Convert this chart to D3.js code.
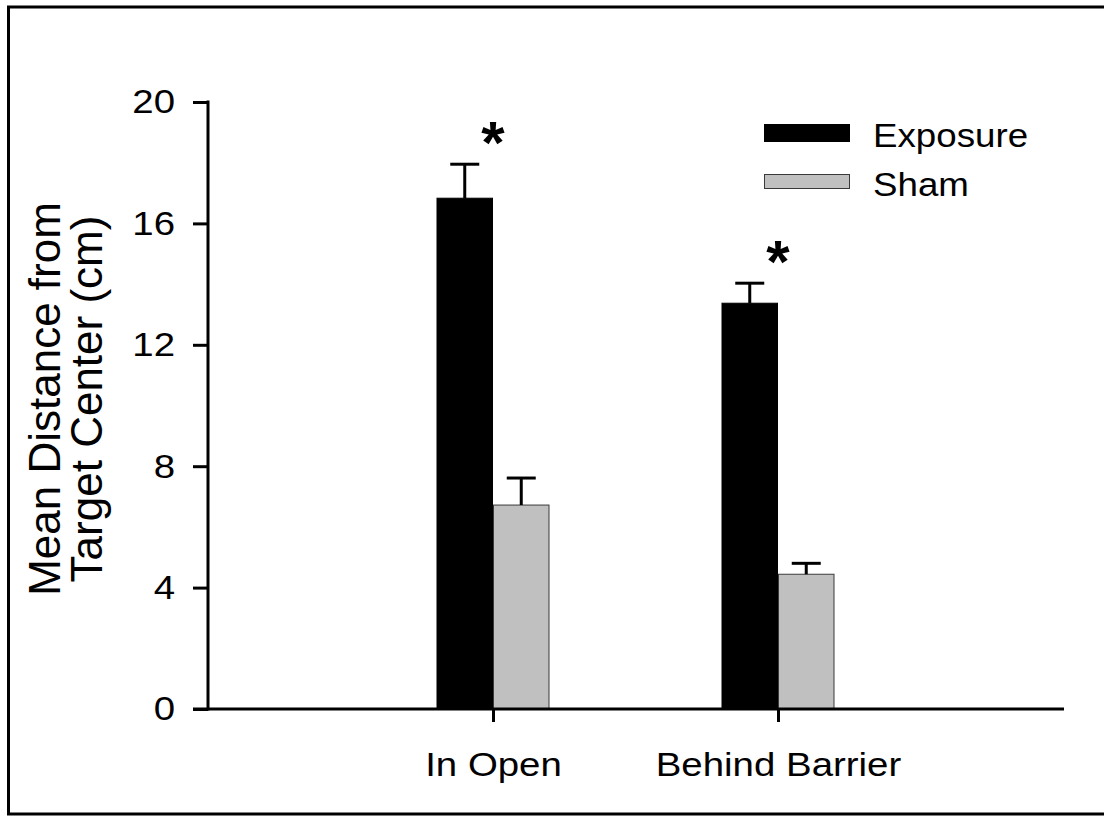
<!DOCTYPE html>
<html>
<head>
<meta charset="utf-8">
<script src="https://cdn.jsdelivr.net/npm/d3@7"></script>
<style>
  html, body { margin: 0; padding: 0; background: #fff; }
  svg { display: block; font-family: Arial, "Liberation Sans", sans-serif; }
</style>
</head>
<body>
<svg id="chart" width="1104" height="816"></svg>
<script>
// Mean distance from target center (cm), mean with upper SEM bar
const categories = ["In Open", "Behind Barrier"];
const seriesNames = ["Exposure", "Sham"];
const exposureMean = [16.83, 13.37];
const exposureErr  = [1.12, 0.66];
const shamMean     = [6.72, 4.44];
const shamErr      = [0.89, 0.36];
const significant  = [true, true];
const yTicks = [0, 4, 8, 12, 16, 20];

// horizontal text is set slightly wide
const stretch = 1.13;
const FONT = "Arial, 'Liberation Sans', sans-serif";

const svg = d3.select("#chart");

// outer frame
svg.append("rect")
  .attr("x", 8.5).attr("y", 7).attr("width", 1110).attr("height", 807)
  .attr("fill", "none").attr("stroke", "#000").attr("stroke-width", 3);

const y = d3.scaleLinear().domain([0, 20]).range([709, 102]);
const x = d3.scalePoint().domain(categories).range([493, 778]);
const axisX0 = 208, axisXEnd = 1064;
const barW = 56.5;

const series = [
  { name: seriesNames[0], mean: exposureMean, err: exposureErr, fill: "#000", stroke: "#000", offset: -1 },
  { name: seriesNames[1], mean: shamMean, err: shamErr, fill: "#c0c0c0", stroke: "#3a3a3a", offset: 0 }
];

// bars
series.forEach(s => {
  svg.append("g").selectAll("rect")
    .data(categories)
    .join("rect")
    .attr("x", (c) => x(c) + s.offset * barW + 0.5)
    .attr("y", (c, i) => y(s.mean[i]))
    .attr("width", barW - 1)
    .attr("height", (c, i) => y(0) - y(s.mean[i]))
    .attr("fill", s.fill)
    .attr("stroke", s.stroke)
    .attr("stroke-width", 1);
});

// upper error bars
series.forEach(s => {
  const g = svg.append("g").attr("stroke", "#000").attr("stroke-width", 3);
  categories.forEach((c, i) => {
    const cx = x(c) + s.offset * barW + barW / 2;
    const top = y(s.mean[i] + s.err[i]);
    g.append("line").attr("x1", cx).attr("x2", cx)
      .attr("y1", y(s.mean[i])).attr("y2", top);
    g.append("line").attr("x1", cx - 14.5).attr("x2", cx + 14.5)
      .attr("y1", top).attr("y2", top);
  });
});

// significance markers
svg.append("g").selectAll("text")
  .data(categories.filter((c, i) => significant[i]))
  .join("text")
  .attr("x", c => x(c))
  .attr("y", (c) => {
    const i = categories.indexOf(c);
    return y(exposureMean[i] + exposureErr[i]) - 1;
  })
  .attr("text-anchor", "middle")
  .attr("font-size", 60)
  .attr("font-weight", "bold")
  .text("*");

// y axis
const yAxis = d3.axisLeft(y).tickValues(yTicks).tickSize(15).tickPadding(6)
  .tickFormat(d3.format("d"));
const gy = svg.append("g").attr("transform", `translate(${axisX0},0)`).call(yAxis);
gy.select(".domain").remove();
gy.selectAll(".tick line").attr("stroke-width", 3).attr("stroke", "#000");
gy.selectAll(".tick text")
  .attr("font-size", 34).attr("fill", "#000").attr("font-family", FONT)
  .attr("x", -33 / stretch)
  .attr("transform", `scale(${stretch},1)`);
svg.append("line").attr("x1", axisX0).attr("x2", axisX0)
  .attr("y1", y(20) - 1.5).attr("y2", y(0) + 1.5)
  .attr("stroke", "#000").attr("stroke-width", 3);

// x axis
const xAxis = d3.axisBottom(x).tickSize(13).tickPadding(24);
const gx = svg.append("g").attr("transform", `translate(0,${y(0)})`).call(xAxis);
gx.select(".domain").remove();
gx.selectAll(".tick line").attr("stroke-width", 3).attr("stroke", "#000");
gx.selectAll(".tick text")
  .attr("font-size", 34).attr("fill", "#000").attr("font-family", FONT)
  .attr("dy", null).attr("y", 67)
  .attr("transform", `scale(${stretch},1)`);
svg.append("line").attr("x1", 193).attr("x2", axisXEnd)
  .attr("y1", y(0)).attr("y2", y(0))
  .attr("stroke", "#000").attr("stroke-width", 3);

// y axis title
const title = svg.append("text")
  .attr("transform", "translate(0,399) rotate(-90)")
  .attr("text-anchor", "middle")
  .attr("font-size", 44)
  .attr("fill", "#000");
title.append("tspan").attr("x", 0).attr("y", 60).text("Mean Distance from");
title.append("tspan").attr("x", 0).attr("y", 102).text("Target Center (cm)");

// legend
const legend = svg.append("g");
series.forEach((s, i) => {
  legend.append("rect")
    .attr("x", 764.5).attr("y", i === 0 ? 124.5 : 174.5)
    .attr("width", 85).attr("height", i === 0 ? 17 : 14)
    .attr("fill", s.fill).attr("stroke", s.stroke).attr("stroke-width", 1);
  legend.append("text")
    .attr("transform", `translate(873,${i === 0 ? 147 : 196}) scale(${stretch},1)`)
    .attr("font-size", 32.5).attr("fill", "#000")
    .text(s.name);
});
</script>
</body>
</html>
